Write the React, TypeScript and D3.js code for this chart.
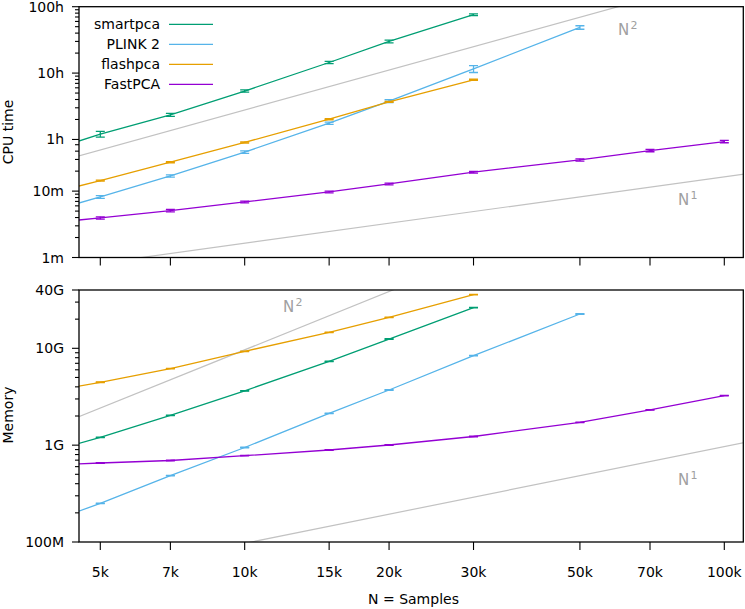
import React from "react";
import * as d3 from "d3";

// ---------- data ----------
const samples = [4000, 5000, 7000, 10000, 15000, 20000, 30000, 50000, 70000, 100000];
const xTicks = [5000, 7000, 10000, 15000, 20000, 30000, 50000, 70000, 100000];
const xTickLabels = ["5k", "7k", "10k", "15k", "20k", "30k", "50k", "70k", "100k"];

const seriesNames = ["smartpca", "PLINK 2", "flashpca", "FastPCA"];
const seriesColors = ["#009e73", "#56b4e9", "#e69f00", "#9400d3"];

// CPU time, minutes
const smartpcaTime = [42.9, 72.3, 140.9, 322, 866, 1795, 4540, null, null, null];
const plinkTime = [5.16, 8.17, 16.9, 38.7, 105.6, 226.7, 696, 2921, null, null];
const flashpcaTime = [9.57, 14.39, 27.3, 54.2, 121.4, 221, 475, null, null, null];
const fastpcaTime = [3.38, 3.94, 5.08, 6.87, 9.72, 12.83, 19.3, 29.5, 40.8, 55.8];
// relative error
const smartpcaTimeErr = [0, 0.1, 0.05, 0.04, 0.04, 0.05, 0.03, 0, 0, 0];
const plinkTimeErr = [0, 0.05, 0.04, 0.04, 0.04, 0.05, 0.12, 0.06, 0, 0];
const flashpcaTimeErr = [0, 0.02, 0.02, 0.02, 0.02, 0.02, 0.02, 0, 0, 0];
const fastpcaTimeErr = [0, 0.04, 0.04, 0.03, 0.03, 0.03, 0.03, 0.04, 0.04, 0.04];

// Memory, GB
const smartpcaMem = [0.879, 1.205, 2.03, 3.64, 7.34, 12.47, 26.3, null, null, null];
const plinkMem = [0.167, 0.251, 0.484, 0.946, 2.13, 3.71, 8.39, 22.6, null, null];
const flashpcaMem = [3.66, 4.46, 6.16, 9.31, 14.6, 20.9, 35.8, null, null, null];
const fastpcaMem = [0.625, 0.654, 0.694, 0.778, 0.891, 1.004, 1.229, 1.72, 2.31, 3.24];
const memErr = 0.006;

// reference slopes: value at N = 10k
const timeN2At10k = 166.4; // minutes
const timeN1At10k = 1.64;
const memN2At10k = 9.65; // GB
const memN1At10k = 0.0968;

const timeTicks = [1, 10, 60, 600, 6000];
const timeTickLabels = ["1m", "10m", "1h", "10h", "100h"];
const timeMinor = [2, 3, 4, 5, 6, 7, 8, 9, 20, 30, 40, 50, 120, 180, 240, 300, 360, 420, 480, 540, 1200, 1800, 2400, 3000, 3600, 4200, 4800, 5400];
const memTicks = [0.1, 1, 10, 40];
const memTickLabels = ["100M", "1G", "10G", "40G"];
const memMinor = [0.2, 0.3, 0.4, 0.5, 0.6, 0.7, 0.8, 0.9, 2, 3, 4, 5, 6, 7, 8, 9, 20, 30];

// ---------- layout ----------
const W = 745;
const H = 609;
const L = 79;
const R = 743.3;
const topPanel = { top: 6.7, bottom: 257.5 };
const botPanel = { top: 290, bottom: 542 };
const FONT = "'DejaVu Sans', Verdana, sans-serif";
const GRAY = "#c2c2c2";
const LABELGRAY = "#a0a0a0";

const x = d3.scaleLog().domain([4514, 109550]).range([L, R]);
const yTime = d3.scaleLog().domain([1, 6000]).range([topPanel.bottom, topPanel.top]);
const yMem = d3.scaleLog().domain([0.1, 40]).range([botPanel.bottom, botPanel.top]);

type Series = { values: (number | null)[]; err: number[] };

function Panel(props: {
  id: string;
  y: d3.ScaleLogarithmic<number, number>;
  panel: { top: number; bottom: number };
  series: Series[];
  ticks: number[];
  tickLabels: string[];
  minor: number[];
  n2At10k: number;
  n1At10k: number;
  showXLabels: boolean;
  title: string;
  titleY: number;
  n2Label: [number, number];
  n1Label: [number, number];
}) {
  const { y, panel } = props;
  const line = d3
    .line<[number, number | null]>()
    .defined((d) => d[1] != null)
    .x((d) => x(d[0]))
    .y((d) => y(d[1] as number));
  const refN = [1000, 300000];
  const refLine = (k: number, c10: number) =>
    d3
      .line<number>()
      .x((n) => x(n))
      .y((n) => y(c10 * Math.pow(n / 10000, k)))(refN) as string;
  const clipId = "clip-" + props.id;
  return (
    <g>
      <defs>
        <clipPath id={clipId}>
          <rect x={L} y={panel.top} width={R - L} height={panel.bottom - panel.top} />
        </clipPath>
      </defs>
      <g clipPath={`url(#${clipId})`}>
        <path d={refLine(2, props.n2At10k)} fill="none" stroke={GRAY} strokeWidth={1.2} />
        <path d={refLine(1, props.n1At10k)} fill="none" stroke={GRAY} strokeWidth={1.2} />
        {props.series.map((s, i) => {
          const pts = samples.map((n, j) => [n, s.values[j]] as [number, number | null]);
          return (
            <g key={i} stroke={seriesColors[i]} fill="none" strokeWidth={1.3}>
              <path d={line(pts) as string} />
              {pts.map((p, j) => {
                if (p[1] == null || p[0] < 4514) return null;
                const v = p[1] as number;
                const e = s.err[j];
                const cx = x(p[0]);
                const y1 = y(v * (1 - e));
                const y2 = y(v * (1 + e));
                return (
                  <g key={j}>
                    <line x1={cx} x2={cx} y1={y1} y2={y2} />
                    <line x1={cx - 4.5} x2={cx + 4.5} y1={y1} y2={y1} />
                    <line x1={cx - 4.5} x2={cx + 4.5} y1={y2} y2={y2} />
                  </g>
                );
              })}
            </g>
          );
        })}
      </g>
      {/* N labels */}
      <g fill={LABELGRAY} fontFamily={FONT}>
        <text x={props.n2Label[0]} y={props.n2Label[1]} fontSize={15}>N</text>
        <text x={props.n2Label[0] + 12.6} y={props.n2Label[1] - 6.5} fontSize={11}>2</text>
        <text x={props.n1Label[0]} y={props.n1Label[1]} fontSize={15}>N</text>
        <text x={props.n1Label[0] + 12.6} y={props.n1Label[1] - 6.5} fontSize={11}>1</text>
      </g>
      {/* frame */}
      <rect x={L} y={panel.top} width={R - L} height={panel.bottom - panel.top} fill="none" stroke="#000" strokeWidth={1.3} />
      {/* y ticks */}
      <g stroke="#000" strokeWidth={1.1}>
        {props.ticks.map((t, i) => (
          <line key={"M" + i} x1={L - 7} x2={L} y1={y(t)} y2={y(t)} />
        ))}
        {props.minor.map((t, i) => (
          <line key={"m" + i} x1={L - 4} x2={L} y1={y(t)} y2={y(t)} />
        ))}
        {xTicks.map((t, i) => (
          <line key={"x" + i} x1={x(t)} x2={x(t)} y1={panel.bottom} y2={panel.bottom + 8} />
        ))}
      </g>
      <g fontFamily={FONT} fontSize={14} fill="#000">
        {props.ticks.map((t, i) => (
          <text key={i} x={64} y={y(t) + 5} textAnchor="end">
            {props.tickLabels[i]}
          </text>
        ))}
        {props.showXLabels &&
          xTicks.map((t, i) => (
            <text key={"xl" + i} x={x(t)} y={577} textAnchor="middle">
              {xTickLabels[i]}
            </text>
          ))}
        <text transform={`translate(13,${props.titleY}) rotate(-90)`} textAnchor="middle">
          {props.title}
        </text>
      </g>
    </g>
  );
}

export default function App() {
  const timeSeries: Series[] = [
    { values: smartpcaTime, err: smartpcaTimeErr },
    { values: plinkTime, err: plinkTimeErr },
    { values: flashpcaTime, err: flashpcaTimeErr },
    { values: fastpcaTime, err: fastpcaTimeErr },
  ];
  const zeroErr = samples.map(() => memErr);
  const memSeries: Series[] = [
    { values: smartpcaMem, err: zeroErr },
    { values: plinkMem, err: zeroErr },
    { values: flashpcaMem, err: zeroErr },
    { values: fastpcaMem, err: zeroErr },
  ];
  return (
    <svg
      width={W}
      height={H}
      viewBox={`0 0 ${W} ${H}`}
      style={{ position: "absolute", left: 0, top: 0, display: "block", background: "#fff" }}
    >
      <rect x={0} y={0} width={W} height={H} fill="#fff" />
      <Panel
        id="time"
        y={yTime}
        panel={topPanel}
        series={timeSeries}
        ticks={timeTicks}
        tickLabels={timeTickLabels}
        minor={timeMinor}
        n2At10k={timeN2At10k}
        n1At10k={timeN1At10k}
        showXLabels={false}
        title="CPU time"
        titleY={132}
        n2Label={[618, 35]}
        n1Label={[678, 205]}
      />
      <Panel
        id="mem"
        y={yMem}
        panel={botPanel}
        series={memSeries}
        ticks={memTicks}
        tickLabels={memTickLabels}
        minor={memMinor}
        n2At10k={memN2At10k}
        n1At10k={memN1At10k}
        showXLabels={true}
        title="Memory"
        titleY={415}
        n2Label={[283, 312]}
        n1Label={[678, 485]}
      />
      {/* legend */}
      <g fontFamily={FONT} fontSize={14}>
        {seriesNames.map((name, i) => (
          <g key={i}>
            <text x={160} y={24.3 + i * 20 + 5} textAnchor="end" fill="#000">
              {name}
            </text>
            <line x1={169} x2={213} y1={24.3 + i * 20} y2={24.3 + i * 20} stroke={seriesColors[i]} strokeWidth={1.3} />
          </g>
        ))}
      </g>
      <text x={413.5} y={604} textAnchor="middle" fontFamily={FONT} fontSize={14} fill="#000">
        N = Samples
      </text>
    </svg>
  );
}
